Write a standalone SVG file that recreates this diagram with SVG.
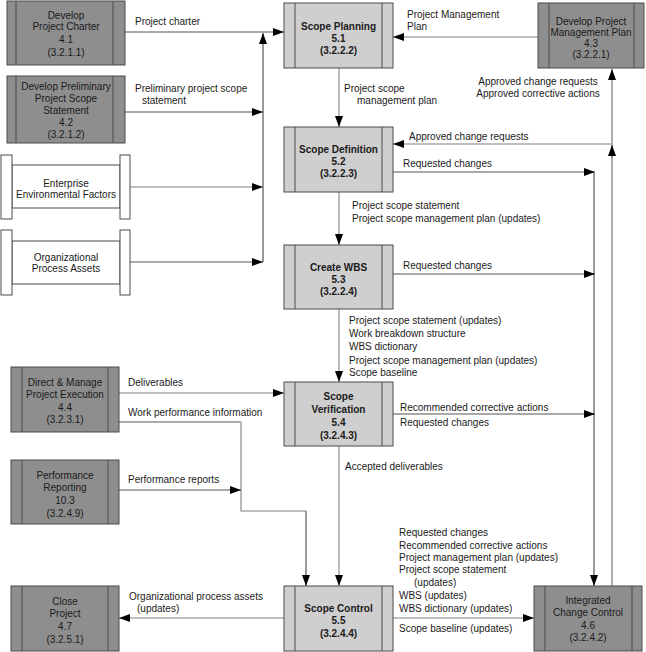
<svg xmlns="http://www.w3.org/2000/svg" width="646" height="652" viewBox="0 0 646 652">
<defs>
<marker id="ah" markerUnits="userSpaceOnUse" markerWidth="12" markerHeight="10" refX="11" refY="4" orient="auto">
<path d="M0,0 L11,4 L0,8 Z" fill="#000"/>
</marker>
<style>
text{font-family:"Liberation Sans",Arial,sans-serif;font-size:10px;fill:#1a1a1a}
.c{text-anchor:middle}
.b{font-weight:bold}
.dk{fill:#8e8e8e;stroke:#4a4a4a;stroke-width:1}
.lt{fill:#cfcfcf;stroke:#4a4a4a;stroke-width:1}
.wh{fill:#fff;stroke:#4a4a4a;stroke-width:1}
.bar{stroke:#4a4a4a;stroke-width:1;fill:none}
.ln{fill:none;stroke:#555;stroke-width:1.2}
.lg{fill:none;stroke:#aaa;stroke-width:1.6}
.md{fill:none;stroke:#777;stroke-width:1.2}
.a{marker-end:url(#ah)}
</style>
</defs>
<rect width="646" height="652" fill="#fff"/>

<g id="connectors">
<path class="ln a" d="M125,32 H284"/>
<path class="ln a" d="M125,112 H263"/>
<path class="lg a" d="M130,187 H263"/>
<path class="ln a" d="M130,262 H263"/>
<path class="ln a" d="M263,262 V33"/>
<path class="lg a" d="M538,37 H393"/>
<path class="lg a" d="M339,68 V127"/>
<path class="md a" d="M612,586 V69"/>
<path class="lg a" d="M612,144 H393"/>
<path class="md a" d="M612,158 V145"/>
<path class="ln a" d="M393,172 H595"/>
<path class="ln a" d="M594,172 V586"/>
<path class="lg a" d="M339,192 V245"/>
<path class="ln a" d="M393,274 H595"/>
<path class="lg a" d="M339,309 V382"/>
<path class="lg a" d="M119,393 H284"/>
<path class="ln a" d="M393,414 H595"/>
<path class="ln" d="M119,422 H241"/>
<path class="lg" d="M241,422 V511 H306"/>
<path class="ln a" d="M306,511 V586"/>
<path class="ln a" d="M119,490 H241"/>
<path class="lg a" d="M339,446 V586"/>
<path class="lg a" d="M284,618 H119"/>
<path class="lg a" d="M393,618 H534"/>
</g>

<g id="labels">
<text x="135" y="24.5">Project charter</text>
<text x="135" y="91.5">Preliminary project scope</text>
<text x="142" y="103.5">statement</text>
<text x="407" y="17.5">Project Management</text>
<text x="407" y="29.5">Plan</text>
<text x="344" y="91.5">Project scope</text>
<text x="357" y="103.5">management plan</text>
<text x="538" y="84.5" class="c">Approved change requests</text>
<text x="538" y="96.5" class="c">Approved corrective actions</text>
<text x="409" y="139.5">Approved change requests</text>
<text x="403" y="166.5">Requested changes</text>
<text x="352" y="208.5">Project scope statement</text>
<text x="352" y="221.5">Project scope management plan (updates)</text>
<text x="403" y="268.5">Requested changes</text>
<text x="349" y="323.5">Project scope statement (updates)</text>
<text x="349" y="336.5">Work breakdown structure</text>
<text x="349" y="349.5">WBS dictionary</text>
<text x="349" y="363.5">Project scope management plan (updates)</text>
<text x="349" y="375.5">Scope baseline</text>
<text x="128" y="385.5">Deliverables</text>
<text x="128" y="415.5">Work performance information</text>
<text x="400" y="410.5">Recommended corrective actions</text>
<text x="400" y="425.5">Requested changes</text>
<text x="128" y="483">Performance reports</text>
<text x="345" y="469.5">Accepted deliverables</text>
<text x="129" y="599.5">Organizational process assets</text>
<text x="137" y="611.5">(updates)</text>
<text x="399" y="535.5">Requested changes</text>
<text x="399" y="548.5">Recommended corrective actions</text>
<text x="399" y="560.5">Project management plan (updates)</text>
<text x="399" y="572.5">Project scope statement</text>
<text x="414" y="585.5">(updates)</text>
<text x="399" y="598.5">WBS (updates)</text>
<text x="399" y="611.5">WBS dictionary (updates)</text>
<text x="399" y="631.5">Scope baseline (updates)</text>
</g>

<g id="n41">
<rect class="dk" x="7" y="1" width="118" height="64"/>
<path class="bar" d="M16,1 V65 M113,1 V65"/>
<text class="c" x="66" y="18.5">Develop</text>
<text class="c" x="66" y="29.5">Project Charter</text>
<text class="c" x="66" y="42.5">4.1</text>
<text class="c" x="66" y="55.5">(3.2.1.1)</text>
</g>
<g id="n42">
<rect class="dk" x="7" y="76" width="118" height="67"/>
<path class="bar" d="M16,76 V143 M113,76 V143"/>
<text class="c" x="66" y="89.5">Develop Preliminary</text>
<text class="c" x="66" y="101.5">Project Scope</text>
<text class="c" x="66" y="113.5">Statement</text>
<text class="c" x="66" y="125.5">4.2</text>
<text class="c" x="66" y="137.5">(3.2.1.2)</text>
</g>
<g id="eef">
<rect class="wh" x="12" y="165" width="108" height="43"/>
<rect class="wh" x="1" y="155" width="11" height="64"/>
<rect class="wh" x="120" y="155" width="10" height="64"/>
<text class="c" x="66" y="186.5">Enterprise</text>
<text class="c" x="66" y="197.5">Environmental Factors</text>
</g>
<g id="opa">
<rect class="wh" x="12" y="241" width="108" height="43"/>
<rect class="wh" x="1" y="230" width="11" height="65"/>
<rect class="wh" x="120" y="230" width="10" height="65"/>
<text class="c" x="66" y="260.5">Organizational</text>
<text class="c" x="66" y="271.5">Process Assets</text>
</g>
<g id="n43">
<rect class="dk" x="538" y="3" width="106" height="65"/>
<path class="bar" d="M549,3 V68 M634,3 V68"/>
<text class="c" x="591" y="24.5">Develop Project</text>
<text class="c" x="591" y="35.5">Management Plan</text>
<text class="c" x="591" y="46.5">4.3</text>
<text class="c" x="591" y="57.5">(3.2.2.1)</text>
</g>
<g id="n44">
<rect class="dk" x="11" y="367" width="108" height="65"/>
<path class="bar" d="M22,367 V432 M108,367 V432"/>
<text class="c" x="65" y="385.5">Direct &amp; Manage</text>
<text class="c" x="65" y="397.5">Project Execution</text>
<text class="c" x="65" y="410.5">4.4</text>
<text class="c" x="65" y="422.5">(3.2.3.1)</text>
</g>
<g id="n103">
<rect class="dk" x="11" y="460" width="108" height="64"/>
<path class="bar" d="M22,460 V524 M108,460 V524"/>
<text class="c" x="65" y="478.5">Performance</text>
<text class="c" x="65" y="490.5">Reporting</text>
<text class="c" x="65" y="503.5">10.3</text>
<text class="c" x="65" y="516.5">(3.2.4.9)</text>
</g>
<g id="n47">
<rect class="dk" x="11" y="586" width="108" height="65"/>
<path class="bar" d="M22,586 V651 M108,586 V651"/>
<text class="c" x="65" y="604.5">Close</text>
<text class="c" x="65" y="616.5">Project</text>
<text class="c" x="65" y="629.5">4.7</text>
<text class="c" x="65" y="642.5">(3.2.5.1)</text>
</g>
<g id="n46">
<rect class="dk" x="534" y="586" width="108" height="65"/>
<path class="bar" d="M545,586 V651 M632,586 V651"/>
<text class="c" x="588" y="603.5">Integrated</text>
<text class="c" x="588" y="615.5">Change Control</text>
<text class="c" x="588" y="628.5">4.6</text>
<text class="c" x="588" y="640.5">(3.2.4.2)</text>
</g>
<g id="n51">
<rect class="lt" x="284" y="3" width="109" height="65"/>
<path class="bar" d="M295,3 V68 M382,3 V68"/>
<text class="c b" x="338.5" y="29.5">Scope Planning</text>
<text class="c b" x="338.5" y="41.5">5.1</text>
<text class="c b" x="338.5" y="53.5">(3.2.2.2)</text>
</g>
<g id="n52">
<rect class="lt" x="284" y="127" width="109" height="65"/>
<path class="bar" d="M295,127 V192 M382,127 V192"/>
<text class="c b" x="338.5" y="152.5">Scope Definition</text>
<text class="c b" x="338.5" y="164.5">5.2</text>
<text class="c b" x="338.5" y="176.5">(3.2.2.3)</text>
</g>
<g id="n53">
<rect class="lt" x="284" y="245" width="109" height="64"/>
<path class="bar" d="M295,245 V309 M382,245 V309"/>
<text class="c b" x="338.5" y="270.5">Create WBS</text>
<text class="c b" x="338.5" y="282.5">5.3</text>
<text class="c b" x="338.5" y="294.5">(3.2.2.4)</text>
</g>
<g id="n54">
<rect class="lt" x="284" y="382" width="109" height="64"/>
<path class="bar" d="M295,382 V446 M382,382 V446"/>
<text class="c b" x="338.5" y="399.5">Scope</text>
<text class="c b" x="338.5" y="412.5">Verification</text>
<text class="c b" x="338.5" y="425.5">5.4</text>
<text class="c b" x="338.5" y="438.5">(3.2.4.3)</text>
</g>
<g id="n55">
<rect class="lt" x="284" y="586" width="109" height="65"/>
<path class="bar" d="M295,586 V651 M382,586 V651"/>
<text class="c b" x="338.5" y="611.5">Scope Control</text>
<text class="c b" x="338.5" y="623.5">5.5</text>
<text class="c b" x="338.5" y="636.5">(3.2.4.4)</text>
</g>
</svg>
